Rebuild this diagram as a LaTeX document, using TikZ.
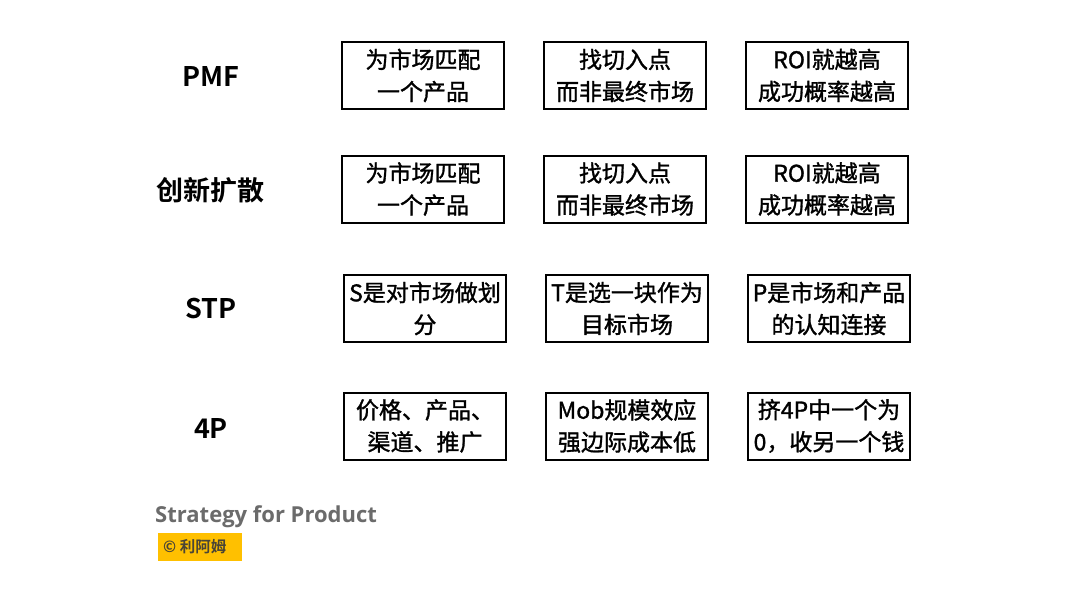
\documentclass[tikz,border=0pt]{standalone}
\usepackage{fontspec}
\setmainfont{Noto Sans CJK SC}[FakeBold=1.3]
\newfontfamily\cjkb{Noto Sans CJK SC Bold}
\newfontfamily\latb{Open Sans Bold}
\definecolor{ylw}{HTML}{FFC000}
\definecolor{gry}{HTML}{6B6B6B}
\definecolor{cgry}{HTML}{4A4536}
\begin{document}
\begin{tikzpicture}[x=1pt,y=1pt,
  cell/.style={draw=black,line width=2pt,minimum width=162pt,minimum height=67pt,
    inner sep=0pt,align=center,font=\fontsize{23}{32}\selectfont},
  rowlab/.style={font=\cjkb\fontsize{27}{30}\selectfont}]
\useasboundingbox[fill=white] (0,0) rectangle (1080,-602);
% row labels
\node[rowlab] (l1) at (211,-76) {PMF};
\node[rowlab] (l2) at (210,-190) {创新扩散};
\node[rowlab] (l3) at (211,-309) {STP};
\node[rowlab] (l4) at (211,-428) {4P};
% row 1
\node[cell] (a1) at (423,-75.5) {为市场匹配\\一个产品};
\node[cell] (a2) at (625,-75.5) {找切入点\\而非最终市场};
\node[cell] (a3) at (827,-75.5) {ROI就越高\\成功概率越高};
% row 2
\node[cell] (b1) at (423,-189) {为市场匹配\\一个产品};
\node[cell] (b2) at (625,-189) {找切入点\\而非最终市场};
\node[cell] (b3) at (827,-189) {ROI就越高\\成功概率越高};
% row 3
\node[cell] (c1) at (425,-308.5) {S是对市场做划\\分};
\node[cell] (c2) at (627,-308.5) {T是选一块作为\\目标市场};
\node[cell] (c3) at (829,-308.5) {P是市场和产品\\的认知连接};
% row 4
\node[cell] (d1) at (425,-426) {价格、产品、\\渠道、推广};
\node[cell] (d2) at (627,-426) {Mob规模效应\\强边际成本低};
\node[cell] (d3) at (829,-426) {挤4P中一个为\\0，收另一个钱};
% footer
\node[anchor=west,inner sep=0pt,text=gry,font=\latb\fontsize{22}{24}\selectfont] (ft) at (155,-517) {Strategy for Product};
\node[anchor=north west,fill=ylw,minimum width=84pt,minimum height=28pt,inner sep=0pt] (yb) at (158,-533) {};
\node[anchor=west,inner sep=0pt,text=cgry,font=\cjkb\fontsize{15.5}{17}\selectfont] (cr) at (163,-547) {©\ 利阿姆};
\end{tikzpicture}
\end{document}
